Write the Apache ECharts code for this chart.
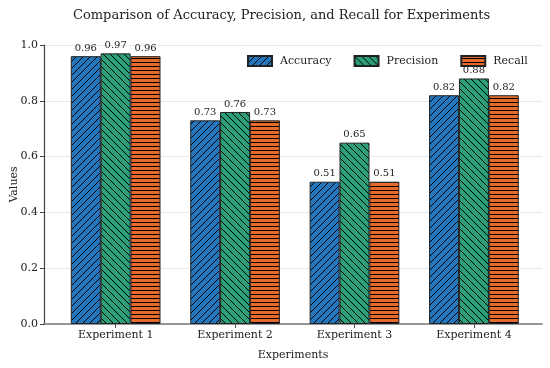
<!DOCTYPE html>
<html>
<head>
<meta charset="utf-8">
<script src="https://cdn.jsdelivr.net/npm/echarts@6/dist/echarts.min.js"></script>
<style>html,body{margin:0;padding:0;background:#fff;}#c{width:550px;height:368px;}</style>
</head>
<body>
<div id="c"></div>
<script>
var categories = ['Experiment 1', 'Experiment 2', 'Experiment 3', 'Experiment 4'];
var accuracy = [0.96, 0.73, 0.51, 0.82];
var precision = [0.97, 0.76, 0.65, 0.88];
var recall = [0.96, 0.73, 0.51, 0.82];
var seriesNames = ['Accuracy', 'Precision', 'Recall'];
var yTicks = [0, 0.2, 0.4, 0.6, 0.8, 1.0];

var FONT = 'DejaVu Serif';
var BAR_UNIT = 0.25;

function hatch(color, kind) {
  var s = kind === 'h' ? 4 : 7;
  var c = document.createElement('canvas');
  c.width = s; c.height = s;
  var g = c.getContext('2d');
  g.fillStyle = color; g.fillRect(0, 0, s, s);
  g.strokeStyle = '#000'; g.lineWidth = 1;
  g.beginPath();
  if (kind === '/') {
    g.moveTo(-1, s + 1); g.lineTo(s + 1, -1);
    g.moveTo(-1, 1); g.lineTo(1, -1);
    g.moveTo(s - 1, s + 1); g.lineTo(s + 1, s - 1);
  } else if (kind === '\\') {
    g.moveTo(-1, -1); g.lineTo(s + 1, s + 1);
    g.moveTo(s - 1, -1); g.lineTo(s + 1, 1);
    g.moveTo(-1, s - 1); g.lineTo(1, s + 1);
  } else {
    g.moveTo(0, 2.5); g.lineTo(s, 2.5);
  }
  g.stroke();
  return {image: c, repeat: 'repeat'};
}

var colors = ['#2277bf', '#2a9f78', '#e66a2c'];
var kinds = ['/', '\\', 'h'];
var values = [accuracy, precision, recall];

var series = seriesNames.map(function (name, k) {
  return {
    name: name,
    type: 'bar',
    barWidth: 30,
    barGap: '-100%',
    itemStyle: {color: hatch(colors[k], kinds[k]), borderColor: '#222', borderWidth: 1},
    label: {
      show: true, position: 'top', distance: 3,
      fontFamily: FONT, fontSize: 10, color: '#222',
      formatter: function (p) { return p.value[1].toFixed(2); }
    },
    data: values[k].map(function (v, i) { return [i + (k - 1) * BAR_UNIT, v]; })
  };
});

var chart = echarts.init(document.getElementById('c'));
chart.setOption({
  animation: false,
  backgroundColor: '#fff',
  title: {
    text: 'Comparison of Accuracy, Precision, and Recall for Experiments',
    left: 68, top: 4,
    textStyle: {fontFamily: FONT, fontSize: 13, fontWeight: 'normal', color: '#222'}
  },
  legend: {
    data: seriesNames,
    icon: 'rect',
    left: 242, top: 50,
    itemWidth: 24, itemHeight: 10, itemGap: 22,
    textStyle: {fontFamily: FONT, fontSize: 11, color: '#222', padding: [0, 0, 0, 3]}
  },
  grid: {left: 44, right: 8, top: 45, bottom: 44, containLabel: false, outerBoundsMode: 'none'},
  xAxis: {
    type: 'value',
    min: -0.6, max: 3.57,
    name: 'Experiments', nameLocation: 'middle', nameGap: 26, nameMoveOverlap: false,
    nameTextStyle: {fontFamily: FONT, fontSize: 11, color: '#222'},
    axisLine: {show: true, lineStyle: {color: '#777', width: 1.5}},
    axisTick: {show: true, length: 4, customValues: [0, 1, 2, 3], lineStyle: {color: '#555'}},
    axisLabel: {
      customValues: [0, 1, 2, 3], margin: 6,
      fontFamily: FONT, fontSize: 11, color: '#222',
      formatter: function (v) { return categories[Math.round(v)]; }
    },
    splitLine: {show: false}
  },
  yAxis: {
    type: 'value',
    min: 0, max: 1, interval: 0.2,
    name: 'Values', nameLocation: 'middle', nameGap: 24, nameMoveOverlap: false,
    nameTextStyle: {fontFamily: FONT, fontSize: 11, color: '#222'},
    axisLine: {show: true, onZero: false, lineStyle: {color: '#444', width: 1.2}},
    axisTick: {show: true, length: 4, lineStyle: {color: '#444'}},
    axisLabel: {
      margin: 6, fontFamily: FONT, fontSize: 11, color: '#222',
      formatter: function (v) { return v.toFixed(1); }
    },
    splitLine: {show: true, lineStyle: {color: '#e8e8e8', width: 1}}
  },
  series: series
});
</script>
</body>
</html>
